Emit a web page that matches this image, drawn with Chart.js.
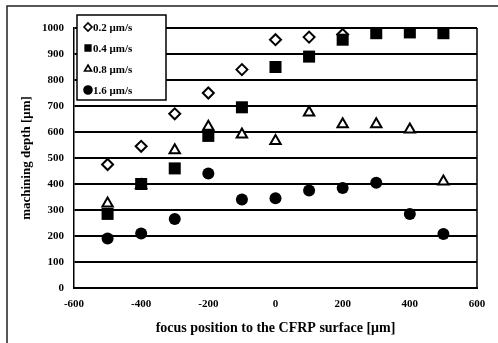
<!DOCTYPE html>
<html>
<head>
<meta charset="utf-8">
<script src="https://cdn.jsdelivr.net/npm/chart.js@4/dist/chart.umd.min.js"></script>
<style>
  html, body { margin: 0; padding: 0; background: #fff; }
  #wrap { width: 498px; height: 343px; position: relative; }
</style>
</head>
<body>
<div id="wrap"><canvas id="depthChart" width="498" height="343"></canvas></div>
<script>
// focus positions (um)
const positions = [-500, -400, -300, -200, -100, 0, 100, 200, 300, 400, 500];

// machining depth (um) per scan speed
const depth02 = [475, 545, 670, 750, 840, 955, 965, 975];
const depth04 = [285, 400, 460, 585, 695, 850, 890, 955, 980, 983, 980];
const depth08 = [325, 395, 530, 620, 590, 565, 675, 630, 630, 610, 410];
const depth16 = [190, 210, 265, 440, 340, 345, 375, 385, 405, 285, 208];

const seriesLabels = ['0.2 μm/s', '0.4 μm/s', '0.8 μm/s', '1.6 μm/s'];

const xTicks = [-600, -400, -200, 0, 200, 400, 600];
const yTicks = [0, 100, 200, 300, 400, 500, 600, 700, 800, 900, 1000];

const serif = '"Liberation Serif", "DejaVu Serif", serif';

function toPoints(vals) {
  return vals.map((v, i) => ({ x: positions[i], y: v }));
}

// frame round the whole figure, right border of the plot
const framePlugin = {
  id: 'frame',
  beforeDraw(chart) {
    const c = chart.ctx;
    c.save();
    c.strokeStyle = '#222';
    c.lineWidth = 1.5;
    c.beginPath();
    c.moveTo(7, 343);
    c.lineTo(7, 6);
    c.lineTo(498, 6);
    c.stroke();
    c.restore();
  },
  afterDatasetsDraw(chart) {
    const a = chart.chartArea;
    const c = chart.ctx;
    c.save();
    c.strokeStyle = '#000';
    c.lineWidth = 1.5;
    c.beginPath();
    c.moveTo(a.right, a.top);
    c.lineTo(a.right, a.bottom);
    c.stroke();
    c.restore();
  }
};

// boxed legend sitting over the top-left of the plot
const boxLegend = {
  id: 'boxLegend',
  afterDraw(chart) {
    const c = chart.ctx;
    const x = 77, y = 15, w = 89, h = 85;
    c.save();
    c.fillStyle = '#fff';
    c.fillRect(x, y, w, h);
    c.strokeStyle = '#000';
    c.lineWidth = 1.5;
    c.strokeRect(x, y, w, h);
    c.font = 'bold 11px ' + serif;
    c.textBaseline = 'middle';
    chart.data.datasets.forEach((ds, i) => {
      const cy = y + 12 + i * 21;
      c.lineWidth = 1.6;
      c.strokeStyle = '#000';
      c.fillStyle = ds.pointBackgroundColor;
      Chart.helpers.drawPoint(c, {
        pointStyle: ds.pointStyle,
        radius: 4,
        borderWidth: 1.6
      }, x + 11, cy);
      c.fillStyle = '#000';
      c.fillText(ds.label, x + 16, cy + 1);
    });
    c.restore();
  }
};

new Chart(document.getElementById('depthChart'), {
  type: 'scatter',
  data: {
    datasets: [
      {
        label: seriesLabels[0],
        data: toPoints(depth02),
        order: 2,
        pointStyle: 'rectRot',
        pointRadius: 5.5,
        pointBorderWidth: 2,
        pointBorderColor: '#000',
        pointBackgroundColor: '#fff'
      },
      {
        label: seriesLabels[1],
        data: toPoints(depth04),
        order: 1,
        pointStyle: 'rect',
        pointRadius: 8.5,
        pointBorderWidth: 0,
        pointBorderColor: '#000',
        pointBackgroundColor: '#000'
      },
      {
        label: seriesLabels[2],
        data: toPoints(depth08),
        order: 3,
        pointStyle: 'triangle',
        pointRadius: 6,
        pointBorderWidth: 2,
        pointBorderColor: '#000',
        pointBackgroundColor: '#fff'
      },
      {
        label: seriesLabels[3],
        data: toPoints(depth16),
        order: 4,
        pointStyle: 'circle',
        pointRadius: 6,
        pointBorderWidth: 0,
        pointBorderColor: '#000',
        pointBackgroundColor: '#000'
      }
    ]
  },
  options: {
    responsive: false,
    animation: false,
    devicePixelRatio: 1,
    layout: { padding: { top: 28, right: 21, left: 0, bottom: 0 } },
    plugins: {
      legend: { display: false },
      tooltip: { enabled: false }
    },
    scales: {
      x: {
        type: 'linear',
        min: -600,
        max: 600,
        afterFit(s) { s.height = 55; },
        afterBuildTicks(s) { s.ticks = xTicks.map(v => ({ value: v })); },
        grid: { display: false },
        border: { color: '#000', width: 2 },
        ticks: {
          color: '#000',
          padding: 2,
          callback: v => String(v),
          font: { family: serif, size: 11, weight: 'bold' }
        },
        title: {
          display: true,
          text: 'focus position to the CFRP surface [μm]',
          color: '#000',
          padding: { top: 6, bottom: 6 },
          font: { family: serif, size: 14, weight: 'bold' }
        }
      },
      y: {
        type: 'linear',
        min: 0,
        max: 1000,
        afterFit(s) { s.width = 74; },
        afterBuildTicks(s) { s.ticks = yTicks.map(v => ({ value: v })); },
        grid: {
          color: '#000',
          lineWidth: 2,
          drawTicks: false
        },
        border: { color: '#000', width: 1.5 },
        ticks: {
          color: '#000',
          padding: 10,
          callback: v => String(v),
          font: { family: serif, size: 11, weight: 'bold' }
        },
        title: {
          display: true,
          text: 'machining depth [μm]',
          color: '#000',
          padding: { top: 19, bottom: 2 },
          font: { family: serif, size: 13, weight: 'bold' }
        }
      }
    }
  },
  plugins: [framePlugin, boxLegend]
});
</script>
</body>
</html>
